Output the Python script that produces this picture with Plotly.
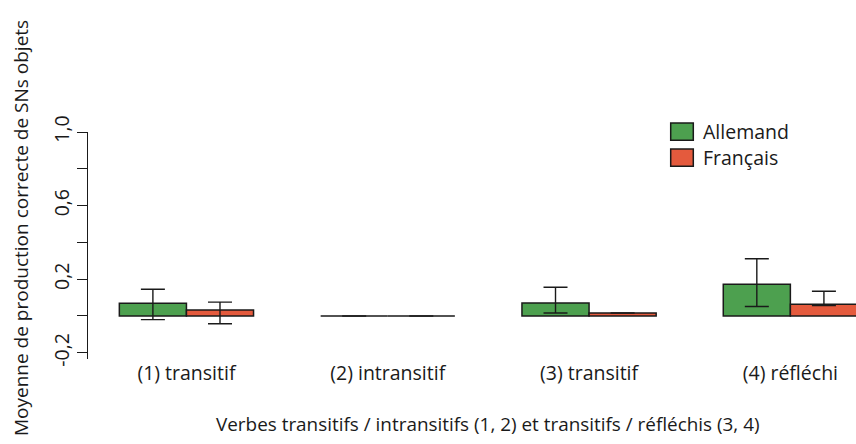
import plotly.graph_objects as go

categories = ["(1) transitif", "(2) intransitif", "(3) transitif", "(4) réfléchi"]
allemand = [0.069, 0.0, 0.071, 0.173]
allemand_plus = [0.076, None, 0.085, 0.138]
allemand_minus = [0.089, None, 0.055, 0.122]
francais = [0.033, 0.0, 0.016, 0.064]
francais_plus = [0.042, None, None, 0.070]
francais_minus = [0.075, None, None, 0.008]
ytick_vals = [-0.2, 0.2, 0.6, 1.0]
ytick_text = ["-0,2", "0,2", "0,6", "1,0"]
series_names = ["Allemand", "Français"]
x_title = "Verbes transitifs / intransitifs (1, 2) et transitifs / réfléchis (3, 4)"
y_title = "Moyenne de production correcte de SNs objets"

GREEN = "#4DA04F"
RED = "#E45A3D"
FONT = "Open Sans"
FS = 19.5
W, H = 856, 444
ML, MR, MT, MB = 88, 0, 132.3, 85.4
PW, PH = W - ML - MR, H - MT - MB


def px(x):
    return (x - ML) / PW


def py(y):
    return (H - MB - y) / PH


fig = go.Figure()
for name, vals, ep, em, col in [
    (series_names[0], allemand, allemand_plus, allemand_minus, GREEN),
    (series_names[1], francais, francais_plus, francais_minus, RED),
]:
    fig.add_trace(go.Bar(
        x=categories, y=vals, name=name,
        marker=dict(color=col, line=dict(color="#1a1a1a", width=1.5)),
        error_y=dict(type="data", array=ep, arrayminus=em, symmetric=False,
                     color="#1a1a1a", thickness=1.4, width=12),
        showlegend=False,
    ))

fig.update_layout(
    width=W, height=H,
    margin=dict(l=ML, r=MR, t=MT, b=MB, pad=0),
    paper_bgcolor="white", plot_bgcolor="white",
    barmode="group", bargap=1/3, bargroupgap=0,
    font=dict(family=FONT, size=FS, color="#1a1a1a"),
)
fig.update_xaxes(
    range=[-0.489, 3.326], showgrid=False, zeroline=False, showline=False,
    ticks="", tickfont=dict(size=FS), automargin=False,
)
fig.update_yaxes(
    range=[-0.234, 1.0], showgrid=False, zeroline=False,
    showline=True, linecolor="#1a1a1a", linewidth=1,
    tickmode="array", tickvals=ytick_vals, ticktext=ytick_text,
    ticks="outside", ticklen=10, tickwidth=1, tickcolor="#1a1a1a",
    tickangle=-90, tickfont=dict(size=FS), automargin=False,
    minor=dict(dtick=0.2, tick0=-0.2, ticks="outside", ticklen=10,
               tickwidth=1, tickcolor="#1a1a1a"),
)

# axis titles
fig.add_annotation(text=x_title, xref="paper", yref="paper",
                   x=px(488), y=py(423), xanchor="center", yanchor="middle",
                   showarrow=False, font=dict(size=18.9))
fig.add_annotation(text=y_title, xref="paper", yref="paper",
                   x=px(21), y=py(228), xanchor="center", yanchor="middle",
                   textangle=-90, showarrow=False, font=dict(size=19))

# legend
for i, (name, col) in enumerate(zip(series_names, [GREEN, RED])):
    y0 = 123.3 + i * 26
    fig.add_shape(type="rect", xref="paper", yref="paper",
                  x0=px(670.7), x1=px(693.3), y0=py(y0), y1=py(y0 + 17.2),
                  fillcolor=col, line=dict(color="#1a1a1a", width=1.5))
    fig.add_annotation(text=name, xref="paper", yref="paper",
                       x=px(701), y=py(y0 + 8.6), xanchor="left", yanchor="middle",
                       showarrow=False, font=dict(size=FS))

fig.write_html("out.html", config={"displayModeBar": False},
               post_script="document.body.style.margin='0';document.body.style.overflow='hidden';")
